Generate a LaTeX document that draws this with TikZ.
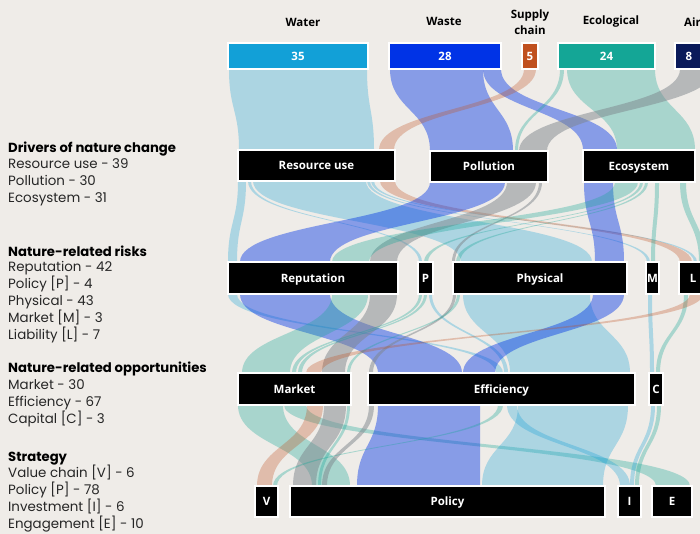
\documentclass[tikz,border=0pt]{standalone}
\usepackage{fontspec}
\setmainfont{Poppins}
\newfontfamily\boxfont{Open Sans}
\definecolor{bg}{HTML}{EFECE8}
\definecolor{cWater}{HTML}{12A0D7}
\definecolor{cWaste}{HTML}{0033E6}
\definecolor{cSupply}{HTML}{C0501E}
\definecolor{cEco}{HTML}{14A696}
\definecolor{cAir}{HTML}{0A1A5A}
\definecolor{cGrey}{HTML}{7E868C}
\tikzset{
  fw/.style={fill=cWater, fill opacity=0.3},
  fb/.style={fill=cWaste, fill opacity=0.43},
  fo/.style={fill=cSupply, fill opacity=0.3},
  ft/.style={fill=cEco, fill opacity=0.32},
  fg/.style={fill=cGrey, fill opacity=0.5},
  blk/.style={draw=white, line width=1.2pt, fill=black, text=white, inner sep=0pt,
    text height=8.2pt, text depth=0pt,
    font=\boxfont\bfseries\fontsize{11.5}{13}\selectfont},
  topbox/.style={draw=white, line width=1.2pt, text=white, inner sep=0pt,
    text height=8.2pt, text depth=0pt,
    font=\boxfont\bfseries\fontsize{11.5}{13}\selectfont},
  hdr/.style={text=black, align=center, inner sep=0pt,
    font=\boxfont\bfseries\fontsize{11.5}{16}\selectfont},
  lt/.style={anchor=base west, inner sep=0pt, text=black!85, font=\fontsize{13.4}{15}\selectfont},
  lh/.style={anchor=base west, inner sep=0pt, text=black, font=\bfseries\fontsize{13.2}{15}\selectfont},
}
% #1 style, #2 x1 left, #3 x1 right, #4 y1, #5 x2 left, #6 x2 right, #7 y2
\newcommand{\flow}[7]{%
  \fill[#1] (#2,#4) .. controls (#2,{(#4+#7)/2}) and (#5,{(#4+#7)/2}) .. (#5,#7)
    -- (#6,#7) .. controls (#6,{(#4+#7)/2}) and (#3,{(#4+#7)/2}) .. (#3,#4) -- cycle;}
% #1 style, #2 x1, #3 y1, #4 x2, #5 y2, #6 name, #7 text
\newcommand{\bnode}[7]{%
  \node[#1, minimum width={(#4-#2)*1pt}, minimum height={(#5-#3)*1pt}] (#6)
    at ({(#2+#4)/2},{(#3+#5)/2}) {#7};}
\begin{document}
\begin{tikzpicture}[x=1pt, y=-1pt]
\useasboundingbox (0,0) rectangle (700,534);
\fill[bg] (0,0) rectangle (700,534);
\clip (0,0) rectangle (700,534);

% ---------- flows: sources -> drivers ----------
\flow{fw}{229}{367}{69}{239}{374}{150}
\flow{fb}{390}{483}{69}{430}{513}{151}
\flow{fb}{483}{501}{69}{583}{617}{150}
\flow{fo}{524}{536}{69}{379}{394}{150}
\flow{ft}{560}{564}{69}{515}{518}{151}
\flow{ft}{567}{655}{69}{617}{695}{150}
\flow{fg}{680}{714}{69}{519}{547}{151}

% ---------- drivers -> risks ----------
\flow{fw}{238}{246}{181}{228}{237}{262}
\flow{fw}{248}{251}{181}{419}{422}{262}
\flow{fw}{253}{366}{181}{461}{592}{262}
\flow{fw}{367}{370}{181}{647}{650}{262}
\flow{fw}{371}{374}{181}{694}{697}{262}
\flow{fo}{380}{395}{181}{680}{692}{262}
\flow{fb}{430}{505}{182}{240}{330}{262}
\flow{fg}{507}{536}{182}{370}{397}{262}
\flow{fg}{539}{542}{182}{452}{455}{262}
\flow{fb}{584}{613}{182}{595}{624}{262}
\flow{ft}{615}{638}{182}{332}{369}{262}
\flow{ft}{640}{643}{182}{424}{428}{262}
\flow{ft}{645}{648}{182}{456}{460}{262}
\flow{ft}{655}{659}{182}{651}{655}{262}
\flow{ft}{680}{686}{182}{699}{705}{262}

% ---------- risks -> opportunities ----------
\flow{fw}{228}{237}{294}{496}{503}{373}
\flow{fb}{240}{330}{294}{378}{462}{373}
\flow{ft}{332}{368}{294}{242}{290}{373}
\flow{fg}{370}{397}{294}{322}{345}{373}
\flow{ft}{419}{422}{294}{292}{296}{373}
\flow{ft}{424}{427}{294}{298}{302}{373}
\flow{fw}{429}{432}{294}{504}{508}{373}
\flow{fg}{453}{456}{294}{369}{373}{373}
\flow{ft}{457}{460}{294}{347}{350}{373}
\flow{fw}{463}{590}{294}{510}{630}{373}
\flow{fb}{593}{624}{294}{463}{495}{373}
\flow{fw}{648}{652}{294}{650}{654}{373}
\flow{ft}{684}{688}{294}{656}{660}{373}
\flow{fo}{690}{703}{294}{306}{321}{373}

% ---------- opportunities -> strategy ----------
\flow{ft}{238}{283}{405}{312}{350}{486}
\flow{ft}{284}{306}{405}{656}{690}{486}
\flow{fo}{307}{323}{405}{257}{272}{486}
\flow{fg}{324}{346}{405}{293}{316}{486}
\flow{ft}{347}{350}{405}{318}{321}{486}
\flow{fg}{369}{374}{405}{322}{327}{486}
\flow{fb}{378}{480}{405}{357}{480}{486}
\flow{ft}{498}{503}{405}{273}{277}{486}
\flow{fw}{507}{517}{405}{620}{630}{486}
\flow{fw}{518}{628}{405}{482}{603}{486}
\flow{fw}{651}{655}{405}{630}{634}{486}
\flow{ft}{657}{661}{405}{635}{639}{486}

% ---------- source boxes ----------
\bnode{topbox, fill=cWater}{228}{43}{368}{69}{water}{35}
\bnode{topbox, fill=cWaste}{389}{43}{501}{69}{waste}{28}
\bnode{topbox, fill=cSupply}{522}{43}{538}{69}{supply}{5}
\bnode{topbox, fill=cEco}{558}{43}{655}{69}{eco}{24}
\bnode{topbox, fill=cAir}{675}{43}{703}{69}{air}{8}
\node[hdr] (hwater) at (303,22) {Water};
\node[hdr] (hwaste) at (444,21) {Waste};
\node[hdr] (hsupply) at (530,22) {Supply\\chain};
\node[hdr] (heco) at (611,22) {Ecological};
\node[hdr, anchor=west] (hair) at (684,22) {Air};

% ---------- drivers ----------
\bnode{blk}{238}{150}{395}{181}{resuse}{Resource use}
\bnode{blk}{430}{151}{548}{182}{pollution}{Pollution}
\bnode{blk}{583}{150}{695}{182}{ecosystem}{Ecosystem}
% ---------- risks ----------
\bnode{blk}{228}{262}{398}{294}{reputation}{Reputation}
\bnode{blk}{418}{262}{433}{294}{riskp}{P}
\bnode{blk}{453}{262}{627}{294}{physical}{Physical}
\bnode{blk}{646}{262}{659}{294}{riskm}{M}
\bnode{blk}{679}{262}{707}{294}{riskl}{L}
% ---------- opportunities ----------
\bnode{blk}{238}{373}{351}{405}{market}{Market}
\bnode{blk}{368}{373}{635}{405}{efficiency}{Efficiency}
\bnode{blk}{649}{373}{663}{405}{oppc}{C}
% ---------- strategy ----------
\bnode{blk}{255}{486}{278}{517}{stratv}{V}
\bnode{blk}{290}{486}{605}{517}{policy}{Policy}
\bnode{blk}{618}{486}{641}{517}{strati}{I}
\bnode{blk}{652}{486}{692}{517}{strate}{E}

% ---------- left legend ----------
\node[lh] (t1) at (8,152.5) {Drivers of nature change};
\node[lt] (t2) at (8,168.5) {Resource use - 39};
\node[lt] (t3) at (8,185.5) {Pollution - 30};
\node[lt] (t4) at (8,202.5) {Ecosystem - 31};
\node[lh] (t5) at (8,256.5) {Nature-related risks};
\node[lt] (t6) at (8,271.5) {Reputation - 42};
\node[lt] (t7) at (8,288.5) {Policy [P] - 4};
\node[lt] (t8) at (8,305.5) {Physical - 43};
\node[lt] (t9) at (8,322.5) {Market [M] - 3};
\node[lt] (t10) at (8,339.5) {Liability [L] - 7};
\node[lh] (t11) at (8,372.5) {Nature-related opportunities};
\node[lt] (t12) at (8,389.5) {Market - 30};
\node[lt] (t13) at (8,406.5) {Efficiency - 67};
\node[lt] (t14) at (8,423.5) {Capital [C] - 3};
\node[lh] (t15) at (8,461.5) {Strategy};
\node[lt] (t16) at (8,477.5) {Value chain [V] - 6};
\node[lt] (t17) at (8,494.5) {Policy [P] - 78};
\node[lt] (t18) at (8,511.5) {Investment [I] - 6};
\node[lt] (t19) at (8,528.5) {Engagement [E] - 10};
\end{tikzpicture}
\end{document}
